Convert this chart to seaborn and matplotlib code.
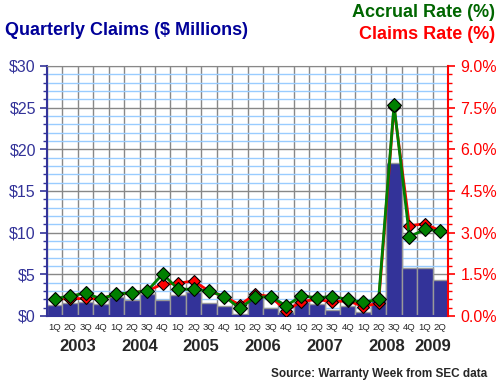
import numpy as np
import pandas as pd
import matplotlib
matplotlib.use("Agg")
import matplotlib.pyplot as plt
import seaborn as sns
from matplotlib.ticker import MultipleLocator, FuncFormatter, FixedLocator
from matplotlib.transforms import blended_transform_factory

# quarterly data 2003 Q1 .. 2009 Q2
quarters = ["1Q", "2Q", "3Q", "4Q"] * 6 + ["1Q", "2Q"]
years = ["2003", "2004", "2005", "2006", "2007", "2008", "2009"]
claims = [1.3, 1.5, 1.7, 1.45, 2.25, 1.9, 2.65, 1.9, 2.5, 2.9, 1.55, 1.15, 0.25,
          2.5, 0.95, 0.45, 1.7, 1.4, 0.7, 1.15, 0.5, 2.1, 18.3, 5.7, 5.7, 4.3]
accrual_rate = [0.62, 0.72, 0.82, 0.62, 0.79, 0.84, 0.90, 1.51, 0.97, 0.96, 0.90, 0.70, 0.28,
                0.67, 0.70, 0.37, 0.72, 0.66, 0.70, 0.60, 0.49, 0.60, 7.6, 2.85, 3.12, 3.06]
claims_rate = [0.62, 0.62, 0.63, 0.62, 0.79, 0.84, 0.90, 1.15, 1.18, 1.26, 0.90, 0.70, 0.40,
               0.78, 0.70, 0.19, 0.52, 0.60, 0.51, 0.55, 0.34, 0.46, 7.51, 3.25, 3.32, 3.06]

df = pd.DataFrame({"q": range(len(claims)), "claims": claims,
                   "accrual": accrual_rate, "rate": claims_rate})

sns.set_style("white")
plt.rcParams["font.family"] = ["Liberation Sans", "DejaVu Sans"]

navy = "#333399"
fig = plt.figure(figsize=(5, 3.87), dpi=100)
ax = fig.add_axes([0.094, 0.1835, 0.802, 0.646])

sns.barplot(data=df, x="q", y="claims", color=navy, width=1.0, saturation=1,
            edgecolor="#999999", linewidth=1, ax=ax, zorder=2)
ax.set_xlim(-0.5, len(claims) - 0.5)
ax.set_ylim(0, 30)
ax.set_axisbelow(True)

# grid
ax.yaxis.set_major_locator(MultipleLocator(5))
ax.yaxis.set_minor_locator(MultipleLocator(1))
ax.xaxis.set_major_locator(FixedLocator(range(len(claims))))
ax.xaxis.set_minor_locator(FixedLocator(np.arange(-0.5, len(claims), 1)))
ax.yaxis.grid(True, which="minor", color="#99ccff", linewidth=1)
ax.yaxis.grid(True, which="major", color="#888888", linewidth=1)
ax.xaxis.grid(True, which="minor", color="#888888", linewidth=1)

ax.set_xticklabels(quarters, fontsize=6.8)
ax.yaxis.set_major_formatter(FuncFormatter(lambda v, p: f"${v:.0f}"))
ax.tick_params(axis="y", which="major", length=5, width=1.2, color=navy,
               labelcolor=navy, labelsize=11.5, pad=3)
ax.tick_params(axis="y", which="minor", length=3, width=1, color=navy)
ax.tick_params(axis="x", which="major", length=0, pad=5)
ax.tick_params(axis="x", which="minor", length=3, color="black")
ax.set_xlabel("")
ax.set_ylabel("")
ax.spines["left"].set_color(navy)
ax.spines["left"].set_linewidth(1.5)
ax.spines["bottom"].set_color(navy)
ax.spines["bottom"].set_linewidth(1.5)
ax.spines["top"].set_color("#888888")
ax.spines["right"].set_visible(False)

# rates on right axis
ax2 = ax.twinx()
sns.lineplot(data=df, x="q", y="rate", color="red", linewidth=2, marker="D",
             markersize=6.5, markeredgecolor="black", markeredgewidth=0.8, ax=ax2)
sns.lineplot(data=df, x="q", y="accrual", color="green", linewidth=2, marker="D",
             markersize=7, markeredgecolor="black", markeredgewidth=0.8, ax=ax2)
ax2.set_ylim(0, 9)
ax2.set_xlim(-0.5, len(claims) - 0.5)
ax2.yaxis.set_major_locator(MultipleLocator(1.5))
ax2.yaxis.set_minor_locator(MultipleLocator(0.3))
ax2.yaxis.set_major_formatter(FuncFormatter(lambda v, p: f"{v:.1f}%"))
ax2.tick_params(axis="y", which="major", length=5, width=1.2, color="red",
                labelcolor="red", labelsize=11.5, pad=4)
ax2.tick_params(axis="y", which="minor", length=3, width=1, color="red")
ax2.set_ylabel("")
ax2.set_xlabel("")
for s in ["left", "top", "bottom"]:
    ax2.spines[s].set_visible(False)
ax2.spines["right"].set_color("red")
ax2.spines["right"].set_linewidth(1.5)

# year labels
trans = blended_transform_factory(ax.transData, ax.transAxes)
for i, y in enumerate(years):
    start = i * 4
    end = min(start + 4, len(claims))
    ax.text((start + end - 1) / 2, -0.122, y, transform=trans, ha="center", va="center",
            fontsize=12, fontweight="bold")

fig.text(0.01, 0.922, "Quarterly Claims ($ Millions)", color="#000099", fontsize=13,
         fontweight="bold", ha="left", va="center")
fig.text(0.99, 0.968, "Accrual Rate (%)", color="#006600", fontsize=13,
         fontweight="bold", ha="right", va="center")
fig.text(0.99, 0.91, "Claims Rate (%)", color="red", fontsize=13,
         fontweight="bold", ha="right", va="center")
fig.text(0.975, 0.034, "Source: Warranty Week from SEC data", fontsize=8.5,
         fontweight="bold", ha="right", va="center")

fig.savefig("out.png", dpi=100)
